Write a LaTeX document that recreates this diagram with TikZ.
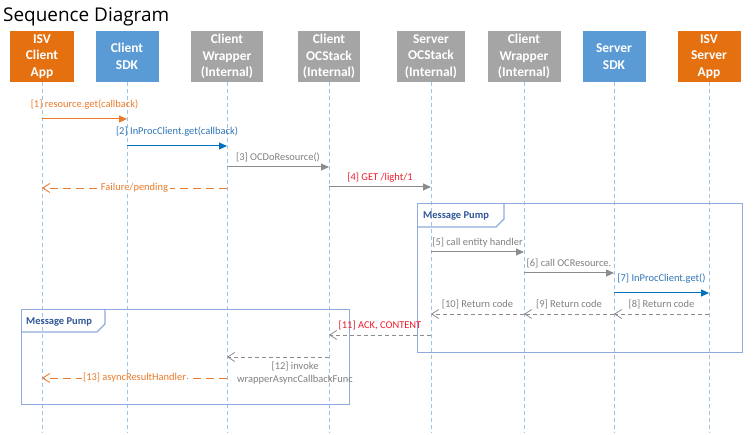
\documentclass[tikz,border=0pt]{standalone}
\usepackage{fontspec}
\setmainfont{Carlito}[BoldFont={Carlito Bold}]
\newfontfamily\titlefont{Open Sans}
\usetikzlibrary{arrows.meta,calc}
\definecolor{orgbox}{HTML}{E5700F}
\definecolor{bluebox}{HTML}{5B9BD5}
\definecolor{graybox}{HTML}{A5A5A5}
\definecolor{orgtxt}{HTML}{EA7B2C}
\definecolor{bluetxt}{HTML}{2E75B6}
\definecolor{bluearr}{HTML}{0070C0}
\definecolor{redtxt}{HTML}{EE1C2E}
\definecolor{graytxt}{HTML}{7F7F7F}
\definecolor{grayarr}{HTML}{8C8C8C}
\definecolor{lifec}{HTML}{9DC3E6}
\definecolor{framec}{HTML}{8FAADC}
\definecolor{frametxt}{HTML}{2F5597}
\tikzset{
  actor/.style={minimum height=51bp, inner sep=0, text=white,
    font=\bfseries\fontsize{13.5}{16.5}\selectfont, align=center},
  life/.style={draw=lifec, dash pattern=on 4bp off 3bp, line width=0.9bp},
  solidmsg/.style={line width=1bp, -{Triangle[length=8bp,width=7bp]}},
  retmsg/.style={draw=grayarr, line width=0.8bp, dash pattern=on 4bp off 3bp,
    -{Straight Barb[length=7bp,width=9bp]}},
  orgmsg/.style={draw=orgtxt, line width=0.9bp, dash pattern=on 8bp off 5bp,
    -{Straight Barb[length=7bp,width=9bp]}},
  lbl/.style={font=\fontsize{10.5}{13}\selectfont, inner sep=0.5bp},
  framebox/.style={draw=framec, line width=1.2bp, inner sep=0, anchor=north west},
  frameline/.style={draw=framec, line width=1.2bp},
  frametitle/.style={font=\bfseries\fontsize{10.5}{12}\selectfont, text=frametxt,
    anchor=west, inner sep=0}
}
% from, to, y, line style, text colour, label raise, text
\newcommand\seqmsg[7]{%
  \draw[#4] (#1 |- 0,#3) -- (#2 |- 0,#3);
  \path (#1 |- 0,#3) -- node[lbl, anchor=base, yshift=#6bp, text=#5] {#7} (#2 |- 0,#3);}
\begin{document}
\begin{tikzpicture}[x=1bp, y=-1bp]
\useasboundingbox (0,0) rectangle (756,435);
\node[anchor=base west, inner sep=0, font=\titlefont\fontsize{19}{22}\selectfont] (title) at (3,22) {Sequence Diagram};

% actors
\node[actor, fill=orgbox,  minimum width=63bp] (isvc)  at (42,56.5)  {ISV\\Client\\App};
\node[actor, fill=bluebox, minimum width=63bp] (csdk)  at (127,56.5) {Client\\SDK};
\node[actor, fill=graybox, minimum width=72bp] (cwrap) at (227,56.5) {Client\\Wrapper\\(Internal)};
\node[actor, fill=graybox, minimum width=62bp] (cocs)  at (329,56.5) {Client\\OCStack\\(Internal)};
\node[actor, fill=graybox, minimum width=68bp] (socs)  at (431,56.5) {Server\\OCStack\\(Internal)};
\node[actor, fill=graybox, minimum width=73bp] (swrap) at (524,56.5) {Client\\Wrapper\\(Internal)};
\node[actor, fill=bluebox, minimum width=63bp] (ssdk)  at (614,56.5) {Server\\SDK};
\node[actor, fill=orgbox,  minimum width=63bp] (isvs)  at (709,56.5) {ISV\\Server\\App};

% lifelines
\foreach \a in {isvc,csdk,cwrap,cocs,socs,swrap,ssdk,isvs}{
  \coordinate (\a-end) at (\a.south |- 0,433);
  \draw[life] (\a.south) -- (\a-end);
}

% frames
\node[framebox, minimum width=325bp, minimum height=149bp] (mp1) at (417,203) {};
\draw[frameline] ($(mp1.north west)+(0,24)$) -- ++(79,0) -- ++(8,-8) -- ++(0,-16);
\node[frametitle] (mp1t) at (423,216) {Message Pump};
\node[framebox, minimum width=328bp, minimum height=95bp] (mp2) at (21,309) {};
\draw[frameline] ($(mp2.north west)+(0,23)$) -- ++(76,0) -- ++(8,-8) -- ++(0,-15);
\node[frametitle] (mp2t) at (26,322) {Message Pump};

% messages
\seqmsg{isvc}{csdk}{119}{solidmsg,draw=orgtxt,fill=orgtxt}{orgtxt}{11.5}{[1] resource.get(callback)}
\seqmsg{csdk}{cwrap}{146}{solidmsg,draw=bluearr,fill=bluearr}{bluetxt}{11.5}{[2] InProcClient.get(callback)}
\seqmsg{cwrap}{cocs}{167}{solidmsg,draw=grayarr,fill=grayarr}{graytxt}{6.5}{[3] OCDoResource()}
\seqmsg{cocs}{socs}{187}{solidmsg,draw=grayarr,fill=grayarr}{redtxt}{6.5}{[4] GET /light/1}
\draw[orgmsg] (cwrap |- 0,188) -- node[lbl, fill=white, text=orgtxt, inner xsep=1.5bp] {Failure/pending} (isvc |- 0,188);

\seqmsg{socs}{swrap}{252}{solidmsg,draw=grayarr,fill=grayarr}{graytxt}{6.5}{[5] call entity handler}
\seqmsg{swrap}{ssdk}{273}{solidmsg,draw=grayarr,fill=grayarr}{graytxt}{6.5}{[6] call OCResource.}
\seqmsg{ssdk}{isvs}{293}{solidmsg,draw=bluearr,fill=bluearr}{bluetxt}{11.5}{[7] InProcClient.get()}
\seqmsg{isvs}{ssdk}{314}{retmsg}{graytxt}{6.5}{[8] Return code}
\seqmsg{ssdk}{swrap}{314}{retmsg}{graytxt}{6.5}{[9] Return code}
\seqmsg{swrap}{socs}{314}{retmsg}{graytxt}{6.5}{[10] Return code}
\seqmsg{socs}{cocs}{335}{retmsg}{redtxt}{6.5}{[11] ACK, CONTENT}
\draw[retmsg] (cocs |- 0,357) -- node[lbl, midway, anchor=north, xshift=17bp, yshift=-4bp, text=graytxt, align=center] {[12] invoke\\wrapperAsyncCallbackFunc} (cwrap |- 0,357);
\draw[orgmsg] (cwrap |- 0,378) -- node[lbl, fill=white, text=orgtxt, inner xsep=1.5bp] {[13] asyncResultHandler} (isvc |- 0,378);
\end{tikzpicture}
\end{document}
